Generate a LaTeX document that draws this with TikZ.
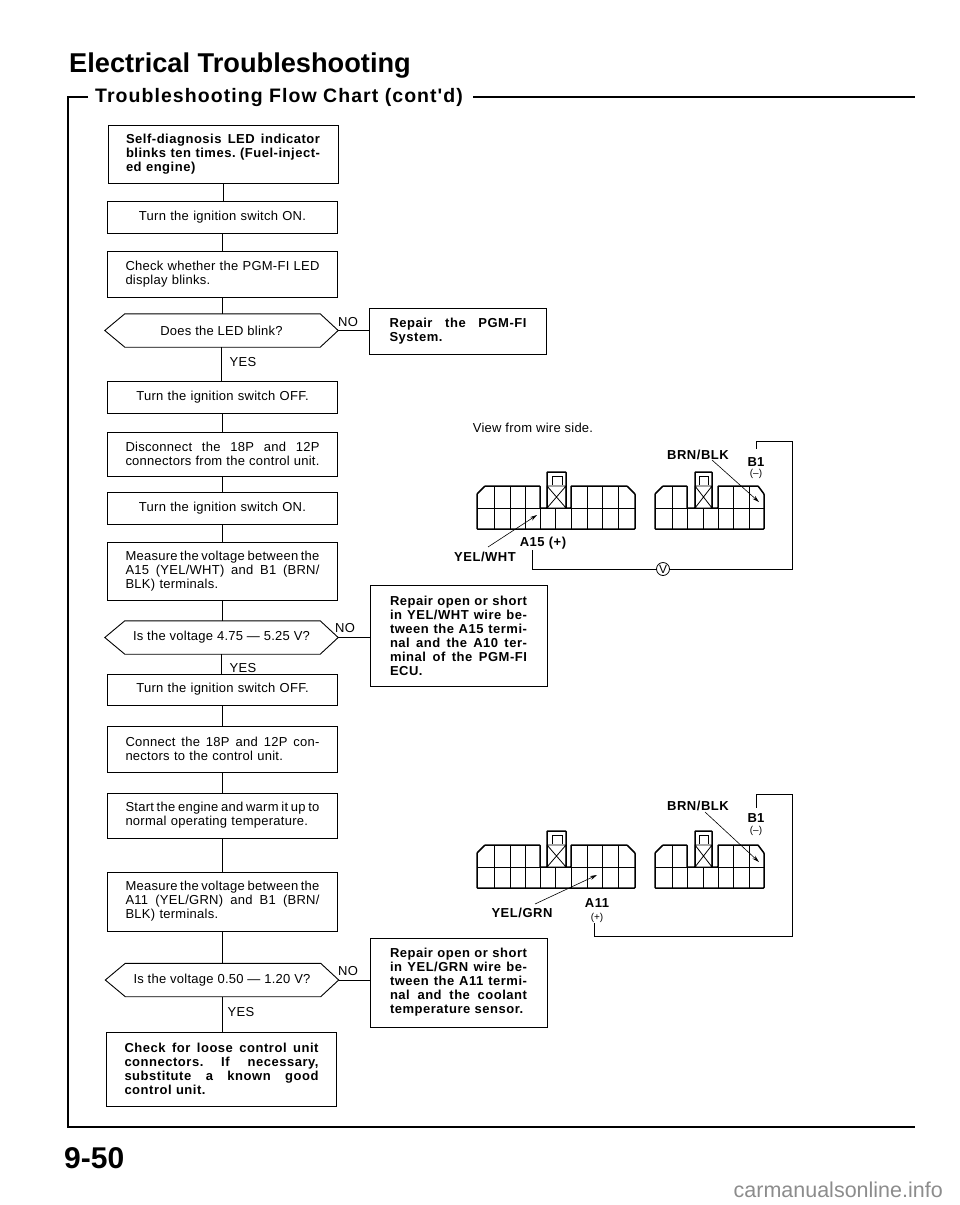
\documentclass[tikz,border=0pt]{standalone}
\usepackage{fontspec}
\setmainfont{Liberation Sans}
\newfontfamily\plainsp[LetterSpace=2]{Liberation Sans}
\newfontfamily\boldsp[LetterSpace=4]{Liberation Sans}
\newfontfamily\subsp[LetterSpace=5.4]{Liberation Sans}
\usetikzlibrary{arrows.meta,calc}
\newcommand{\fs}[2]{\fontsize{#1}{#2}\selectfont}
\newcommand{\looser}{\hbadness=10000\relax\hfuzz=20pt\relax\frenchspacing}
\newcommand{\fplain}{\plainsp\fs{13}{14}\looser}
\newcommand{\fbold}{\boldsp\bfseries\fs{13}{14}\looser}
% one justified line of box text
\newcommand{\jlast}[1]{\hbox to \linewidth{\spaceskip=.2em plus 1em minus .05em\relax #1}}
\newcommand{\jl}[1]{\jlast{#1}\penalty-10000\relax}
\tikzset{
  base/.style={line width=0.9pt,draw=black,rectangle,inner ysep=0pt},
  greyj/.style={base,inner xsep=18pt,text width=194pt,minimum width=230pt,align=left,font=\fplain},
  greyc/.style={base,inner xsep=18pt,text width=194pt,minimum width=230pt,align=center,font=\fplain},
  boldj/.style={base,inner xsep=18pt,text width=194pt,minimum width=230pt,align=left,font=\fbold},
  repairbox/.style={base,inner xsep=20pt,text width=137pt,minimum width=177pt,align=left,font=\fbold},
  decis/.style={inner sep=0pt,minimum width=233pt,minimum height=33pt,font=\fplain,
    append after command={
      \pgfextra{\draw[line width=0.9pt] (\tikzlastnode.west) -- ($(\tikzlastnode.north west)+(20pt,0)$) -- ($(\tikzlastnode.north east)+(-18pt,0)$) -- (\tikzlastnode.east) -- ($(\tikzlastnode.south east)+(-18pt,0)$) -- ($(\tikzlastnode.south west)+(20pt,0)$) -- cycle;}}},
  link/.style={line width=0.9pt},
  wire/.style={line width=0.8pt},
  lead/.style={line width=0.6pt,-{Stealth[length=7pt,width=4pt]}},
  lab/.style={inner sep=0pt,font=\fplain},
  blab/.style={inner sep=0pt,font=\fbold},
  outline/.style={line width=1.5pt,line join=miter,rounded corners=0.6pt},
  cell/.style={line width=0.8pt},
  vmeter/.style={circle,draw,line width=0.8pt,inner sep=0pt,minimum size=13pt,font=\fs{12}{12}},
}
\newcommand{\plugpair}{%
  % large connector
  \draw[cell] (477,508) -- (635,508);
  \foreach \x in {494,510,525,587,602,618} \draw[cell] (\x,486) -- (\x,508);
  \foreach \x in {494,510,525,540,555,571,587,602,618} \draw[cell] (\x,508) -- (\x,529);
  \draw[outline] (477,529) -- (477,494) -- (485,486) -- (540,486) -- (540,508) -- (547,508) -- (547,472) -- (566,472) -- (566,508) -- (571,508) -- (571,486) -- (627,486) -- (635,494) -- (635,529) -- cycle;
  \draw[cell] (547,486) rectangle (566,508) (547,486) -- (566,508) (566,486) -- (547,508);
  \draw[cell] (552,485) -- (552,476) -- (562,476) -- (562,485);
  % small connector
  \draw[cell] (655,508) -- (764,508);
  \foreach \x in {672,733,749} \draw[cell] (\x,486) -- (\x,508);
  \foreach \x in {672,687,703,718,733,749} \draw[cell] (\x,508) -- (\x,529);
  \draw[outline] (655,529) -- (655,494) -- (663,486) -- (687,486) -- (687,508) -- (695,508) -- (695,472) -- (712,472) -- (712,508) -- (718,508) -- (718,486) -- (758,486) -- (764,494) -- (764,529) -- cycle;
  \draw[cell] (695,486) rectangle (712,508) (695,486) -- (712,508) (712,486) -- (695,508);
  \draw[cell] (699,485) -- (699,476) -- (708,476) -- (708,485);
}
\begin{document}
\begin{tikzpicture}[x=1pt,y=-1pt]
\useasboundingbox (0,0) rectangle (960,1205);
% titles
\node[anchor=base west,inner sep=0pt,font=\fs{27.2}{30}\bfseries] (title) at (69,72) {Electrical Troubleshooting};
\node[anchor=base west,inner sep=0pt,font=\subsp\bfseries\fs{19.5}{22}] (sub) at (95,102) {Troubleshooting Flow Chart (cont'd)};
\coordinate (frameA) at (88,97);
\coordinate (frameB) at (68,97);
\coordinate (frameC) at (68,1127);
\coordinate (frameD) at (915,1127);
\coordinate (frameE) at (473,97);
\coordinate (frameF) at (915,97);
\draw[line width=1.3pt] (frameA) -- (frameB) -- (frameC) -- (frameD);
\draw[line width=1.3pt] (frameE) -- (frameF);
\node[anchor=base west,inner sep=0pt,font=\fs{30}{30}\bfseries] (page) at (64,1168) {9-50};
\node[anchor=base east,inner sep=0pt,font=\fs{21.5}{24},text=black!45] (mark) at (943,1197) {carmanualsonline.info};
% flow column
\node[boldj,minimum height=58pt] (b1) at (223,154) {\jl{Self-diagnosis LED indicator}\jl{blinks ten times. (Fuel-inject-}ed engine)};
\node[greyc,minimum height=32pt] (b2) at (222.5,217) {Turn the ignition switch ON.};
\node[greyj,minimum height=46pt] (b3) at (222.5,274) {\jl{Check whether the PGM-FI LED}display blinks.};
\node[decis] (d1) at (221.5,330.5) {Does the LED blink?};
\node[greyc,minimum height=32pt] (b4) at (222.5,397) {Turn the ignition switch OFF.};
\node[greyj,minimum height=44pt] (b5) at (222.5,454) {\jl{Disconnect the 18P and 12P}\jlast{connectors from the control unit.}};
\node[greyc,minimum height=32pt] (b6) at (222.5,508) {Turn the ignition switch ON.};
\node[greyj,minimum height=58pt] (b7) at (222.5,571) {\jl{Measure the voltage between the}\jl{A15 (YEL/WHT) and B1 (BRN/}BLK) terminals.};
\node[decis] (d2) at (221.5,637.5) {Is the voltage 4.75 — 5.25 V?};
\node[greyc,minimum height=31pt] (b8) at (222.5,689.5) {Turn the ignition switch OFF.};
\node[greyj,minimum height=46pt] (b9) at (222.5,749) {\jl{Connect the 18P and 12P con-}nectors to the control unit.};
\node[greyj,minimum height=45pt] (b10) at (222.5,815.5) {\jl{Start the engine and warm it up to}normal operating temperature.};
\node[greyj,minimum height=59pt] (b11) at (222.5,901.5) {\jl{Measure the voltage between the}\jl{A11 (YEL/GRN) and B1 (BRN/}BLK) terminals.};
\node[decis] (d3) at (222,980) {Is the voltage 0.50 — 1.20 V?};
\node[boldj,minimum height=74pt] (b12) at (221.5,1069) {\jl{Check for loose control unit}\jl{connectors. If necessary,}\jl{substitute a known good}control unit.};
% repair boxes
\node[repairbox,minimum height=46pt] (r1) at (458,331) {\jl{Repair the PGM-FI}System.};
\node[repairbox,minimum height=101pt] (r2) at (458.5,635.5) {\jl{Repair open or short}\jl{in YEL/WHT wire be-}\jl{tween the A15 termi-}\jl{nal and the A10 ter-}\jl{minal of the PGM-FI}ECU.};
\node[repairbox,minimum height=89pt] (r3) at (458.5,982.5) {\jl{Repair open or short}\jl{in YEL/GRN wire be-}\jl{tween the A11 termi-}\jl{nal and the coolant}temperature sensor.};
% flow links
\foreach \a/\b in {b1/b2,b2/b3,b3/d1,d1/b4,b4/b5,b5/b6,b6/b7,b7/d2,d2/b8,b8/b9,b9/b10,b10/b11,b11/d3,d3/b12}
  \draw[link] (\a.south) -- (\a.south |- \b.north);
\draw[link] (d1.east) -- (d1.east -| r1.west);
\draw[link] (d2.east) -- (d2.east -| r2.west);
\draw[link] (d3.east) -- (d3.east -| r3.west);
% branch labels
\node[lab] (no1) at (348,322) {NO};
\node[lab] (no2) at (345,628) {NO};
\node[lab] (no3) at (348,971) {NO};
\node[lab] (yes1) at (243,362) {YES};
\node[lab] (yes2) at (243,668) {YES};
\node[lab] (yes3) at (241,1012) {YES};
% upper connectors
\node[lab] (view) at (533,428) {View from wire side.};
\plugpair
\node[blab] (brn1) at (698,455) {BRN/BLK};
\node[blab,font=\fs{13}{14}\bfseries] (bone1) at (756,462) {B1};
\node[lab,font=\fs{10}{11}] (minus1) at (756,474) {(–)};
\node[blab] (a15) at (543,543) {A15 (+)};
\node[blab] (ywh) at (485,557) {YEL/WHT};
\coordinate (lead1a) at (712,460);
\coordinate (lead1b) at (759,502);
\coordinate (lead2a) at (488,547);
\coordinate (lead2b) at (537,515);
\draw[lead] (lead1a) -- (lead1b);
\draw[lead] (lead2a) -- (lead2b);
\node[vmeter] (vm) at (663,569) {V};
\coordinate (w1a) at (532,550);
\coordinate (w1c) at (792,569);
\coordinate (w1d) at (792,441);
\coordinate (w1e) at (756,441);
\coordinate (w1f) at (756,449);
\draw[wire] (w1a) |- (vm);
\draw[wire] (vm) -- (w1c) -- (w1d) -- (w1e) -- (w1f);
% lower connectors
\begin{scope}[shift={(0,359)}]
\plugpair
\end{scope}
\node[blab] (brn2) at (698,806) {BRN/BLK};
\node[blab,font=\fs{13}{14}\bfseries] (bone2) at (756,818) {B1};
\node[lab,font=\fs{10}{11}] (minus2) at (756,831) {(–)};
\node[blab] (a11) at (597,903) {A11};
\node[lab,font=\fs{10}{11}] (plus2) at (597,918) {(+)};
\node[blab] (ygr) at (522,913) {YEL/GRN};
\coordinate (lead3a) at (705,812);
\coordinate (lead3b) at (759,862);
\coordinate (lead4a) at (535,904);
\coordinate (lead4b) at (597,875);
\draw[lead] (lead3a) -- (lead3b);
\draw[lead] (lead4a) -- (lead4b);
\coordinate (w2a) at (594,923);
\coordinate (w2b) at (594,936);
\coordinate (w2c) at (792,936);
\coordinate (w2d) at (792,794);
\coordinate (w2e) at (756,794);
\coordinate (w2f) at (756,808);
\draw[wire] (w2a) -- (w2b) -- (w2c) -- (w2d) -- (w2e) -- (w2f);
\end{tikzpicture}
\end{document}
